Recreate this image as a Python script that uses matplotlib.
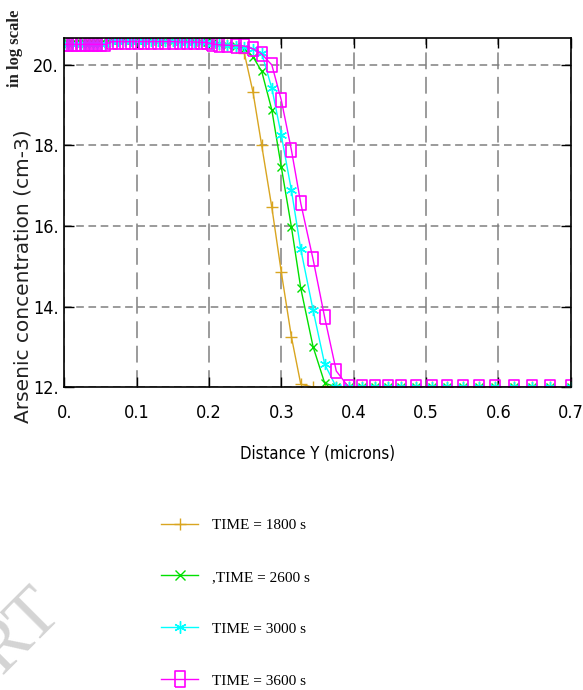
import matplotlib
matplotlib.use("Agg")
import matplotlib.pyplot as plt
from matplotlib import font_manager

# distance mesh (microns)
distance = [0.0, 0.006, 0.011, 0.017, 0.023, 0.029, 0.034, 0.040, 0.046, 0.051, 0.057,
            0.066, 0.075, 0.084, 0.093, 0.102, 0.111, 0.120, 0.130, 0.140, 0.150,
            0.160, 0.170, 0.179, 0.189, 0.197, 0.205, 0.214, 0.225, 0.237, 0.249,
            0.261, 0.273, 0.287, 0.300, 0.314, 0.327, 0.344, 0.360, 0.376, 0.393,
            0.412, 0.429, 0.447, 0.466, 0.486, 0.508, 0.529, 0.551, 0.573, 0.596,
            0.621, 0.647, 0.672, 0.700]

# arsenic concentration, log10 (cm-3)
conc_1800 = [20.58, 20.58, 20.58, 20.58, 20.58, 20.58, 20.58, 20.58, 20.58, 20.58, 20.58,
             20.64, 20.64, 20.64, 20.64, 20.64, 20.64, 20.64, 20.63, 20.63, 20.63,
             20.62, 20.62, 20.62, 20.61, 20.60, 20.56, 20.53, 20.50, 20.45, 20.29,
             19.32, 18.00, 16.46, 14.86, 13.25, 12.07, 12.00, 12.00, 12.00, 12.00,
             12.00, 12.00, 12.00, 12.00, 12.00, 12.00, 12.00, 12.00, 12.00, 12.00,
             12.00, 12.00, 12.00, 12.00]
conc_2600 = [20.55, 20.55, 20.55, 20.55, 20.55, 20.55, 20.55, 20.55, 20.55, 20.55, 20.55,
             20.61, 20.61, 20.61, 20.61, 20.61, 20.61, 20.61, 20.60, 20.60, 20.60,
             20.60, 20.59, 20.59, 20.58, 20.57, 20.54, 20.52, 20.50, 20.47, 20.40,
             20.20, 19.84, 18.88, 17.47, 15.98, 14.45, 13.00, 12.10, 12.00, 12.00,
             12.00, 12.00, 12.00, 12.00, 12.00, 12.00, 12.00, 12.00, 12.00, 12.00,
             12.00, 12.00, 12.00, 12.00]
conc_3000 = [20.53, 20.53, 20.53, 20.53, 20.53, 20.53, 20.53, 20.53, 20.53, 20.53, 20.53,
             20.59, 20.59, 20.59, 20.59, 20.59, 20.59, 20.59, 20.59, 20.59, 20.59,
             20.58, 20.58, 20.58, 20.57, 20.56, 20.53, 20.51, 20.50, 20.48, 20.45,
             20.40, 20.29, 19.42, 18.26, 16.89, 15.42, 13.91, 12.57, 12.00, 12.00,
             12.00, 12.00, 12.00, 12.00, 12.00, 12.00, 12.00, 12.00, 12.00, 12.00,
             12.00, 12.00, 12.00, 12.00]
conc_3600 = [20.51, 20.51, 20.51, 20.51, 20.51, 20.51, 20.51, 20.51, 20.51, 20.51, 20.51,
             20.58, 20.58, 20.58, 20.58, 20.58, 20.58, 20.58, 20.58, 20.58, 20.58,
             20.57, 20.57, 20.57, 20.56, 20.56, 20.52, 20.50, 20.49, 20.48, 20.47,
             20.40, 20.27, 20.00, 19.13, 17.89, 16.56, 15.17, 13.73, 12.40, 12.00,
             12.00, 12.00, 12.00, 12.00, 12.00, 12.00, 12.00, 12.00, 12.00, 12.00,
             12.00, 12.00, 12.00, 12.00]

labels = ['TIME = 1800 s', ',TIME = 2600 s', 'TIME = 3000 s', 'TIME = 3600 s']
x_ticks = [0.0, 0.1, 0.2, 0.3, 0.4, 0.5, 0.6, 0.7]
x_ticklabels = ['0.', '0.1', '0.2', '0.3', '0.4', '0.5', '0.6', '0.7']
y_ticks = [12, 14, 16, 18, 20]
y_ticklabels = ['12.', '14.', '16.', '18.', '20.']

# pick a narrow sans if one is installed (the original uses a condensed face)
fonts = font_manager.fontManager.ttflist
names = {f.name for f in fonts}
narrow = {'family': ['Liberation Sans', 'DejaVu Sans'], 'size': 12.5}
if 'Liberation Sans Narrow' in names:
    narrow = {'family': ['Liberation Sans Narrow', 'DejaVu Sans'], 'size': 15}
elif any(f.name == 'DejaVu Sans' and f.stretch == 'condensed' for f in fonts):
    narrow = {'family': ['DejaVu Sans'], 'stretch': 'condensed', 'size': 13}
serif = ['Liberation Serif', 'DejaVu Serif']

# tall hollow box marker (the source image is stretched vertically)
tall_box = [(-0.65, -1), (0.65, -1), (0.65, 1), (-0.65, 1), (-0.65, -1)]

fig = plt.figure(figsize=(5.83, 6.9), dpi=100)
ax = fig.add_axes([0.110, 0.439, 0.869, 0.506])

l1, = ax.plot(distance, conc_1800, color='#d9a520', lw=1.0, marker='+', ms=8, mew=1.0)
l2, = ax.plot(distance, conc_2600, color='#00e000', lw=1.0, marker='x', ms=6, mew=1.0)
l3, = ax.plot(distance, conc_3000, color='#00ffff', lw=1.0, marker=(6, 2, 0), ms=8, mew=1.0)
l4, = ax.plot(distance, conc_3600, color='#ff00ff', lw=1.0, marker=tall_box, ms=10,
              mfc='none', mew=1.2)

ax.set_xlim(0, 0.7)
ax.set_ylim(12, 20.67)
ax.set_xticks(x_ticks)
ax.set_xticklabels(x_ticklabels, fontdict=narrow)
ax.set_yticks(y_ticks)
ax.set_yticklabels(y_ticklabels, fontdict=narrow)
ax.tick_params(direction='in', length=7, width=1.0, top=True, right=True)
ax.tick_params(axis='x', pad=12)
ax.tick_params(axis='y', pad=4)

ax.xaxis.grid(True, color='#808080', lw=1.1, ls=(0, (11, 5)))
ax.yaxis.grid(True, color='#808080', lw=1.1, ls=(0, (5, 3)))
ax.set_axisbelow(True)
for s in ax.spines.values():
    s.set_linewidth(1.2)
    s.set_color('black')

ax.set_xlabel('Distance Y (microns)', fontdict=dict(narrow, size=narrow['size'] - 1),
              labelpad=17)

fig.text(0.040, 0.600, 'Arsenic concentration (cm-3)', rotation=90,
         ha='center', va='center', fontsize=14.5, color='#222222')
fig.text(0.026, 0.930, 'in log scale', rotation=90, ha='center', va='center',
         family=serif, fontsize=12, fontweight='bold', color='#222222')

fig.legend([l1, l2, l3, l4], labels, loc='upper left',
           bbox_to_anchor=(0.277, 0.249), frameon=False,
           prop={'family': serif, 'size': 11}, handlelength=2.4,
           handletextpad=0.9, labelspacing=2.5, markerscale=1.1,
           borderpad=0, borderaxespad=0)

# faint watermark in the lower-left corner
fig.text(0.035, 0.085, 'RT', rotation=45, ha='center', va='center',
         family=serif, fontsize=52, color='#d4d4d4')

fig.savefig('out.png', dpi=100)
